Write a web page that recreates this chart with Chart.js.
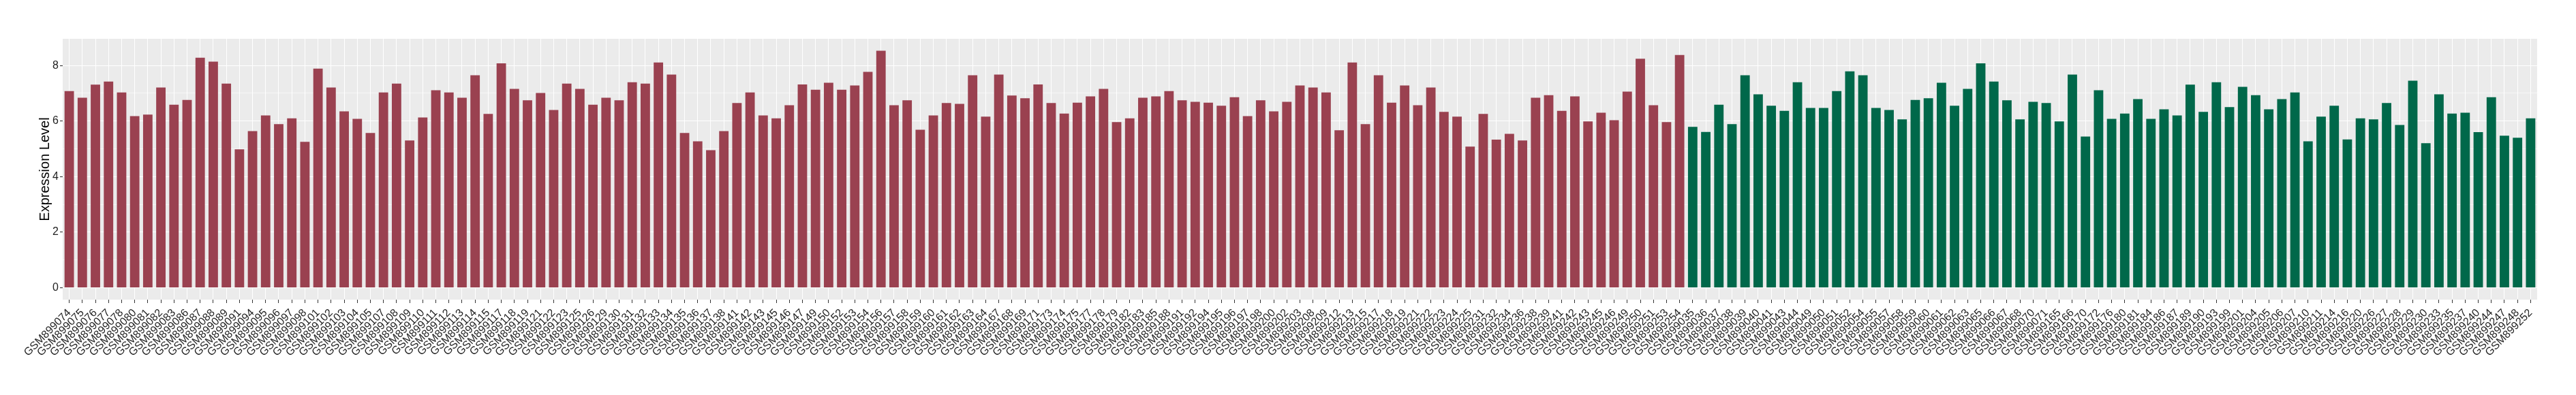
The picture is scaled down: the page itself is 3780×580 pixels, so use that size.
<!DOCTYPE html>
<html>
<head>
<meta charset="utf-8">
<title>Expression Level</title>
<script src="https://cdn.jsdelivr.net/npm/chart.js@4"></script>
<style>
  html, body { margin: 0; padding: 0; background: #fff; }
  #chart { display: block; }
</style>
</head>
<body>
<canvas id="chart" width="3780" height="580"></canvas>
<script>
// first group of samples (red bars)
const groupASamples = [
  'GSM899074', 'GSM899075', 'GSM899076', 'GSM899077', 'GSM899078', 'GSM899080', 'GSM899081', 'GSM899082',
  'GSM899083', 'GSM899086', 'GSM899087', 'GSM899088', 'GSM899089', 'GSM899091', 'GSM899094', 'GSM899095',
  'GSM899096', 'GSM899097', 'GSM899098', 'GSM899101', 'GSM899102', 'GSM899103', 'GSM899104', 'GSM899105',
  'GSM899107', 'GSM899108', 'GSM899109', 'GSM899110', 'GSM899111', 'GSM899112', 'GSM899113', 'GSM899114',
  'GSM899115', 'GSM899117', 'GSM899118', 'GSM899119', 'GSM899121', 'GSM899122', 'GSM899123', 'GSM899125',
  'GSM899126', 'GSM899129', 'GSM899130', 'GSM899131', 'GSM899132', 'GSM899133', 'GSM899134', 'GSM899135',
  'GSM899136', 'GSM899137', 'GSM899138', 'GSM899141', 'GSM899142', 'GSM899143', 'GSM899145', 'GSM899146',
  'GSM899147', 'GSM899149', 'GSM899150', 'GSM899152', 'GSM899153', 'GSM899154', 'GSM899156', 'GSM899157',
  'GSM899158', 'GSM899159', 'GSM899160', 'GSM899161', 'GSM899162', 'GSM899163', 'GSM899164', 'GSM899167',
  'GSM899168', 'GSM899169', 'GSM899171', 'GSM899173', 'GSM899174', 'GSM899175', 'GSM899177', 'GSM899178',
  'GSM899179', 'GSM899182', 'GSM899183', 'GSM899185', 'GSM899188', 'GSM899191', 'GSM899192', 'GSM899194',
  'GSM899195', 'GSM899196', 'GSM899197', 'GSM899198', 'GSM899200', 'GSM899202', 'GSM899203', 'GSM899208',
  'GSM899209', 'GSM899212', 'GSM899213', 'GSM899215', 'GSM899217', 'GSM899218', 'GSM899219', 'GSM899221',
  'GSM899222', 'GSM899223', 'GSM899224', 'GSM899225', 'GSM899231', 'GSM899232', 'GSM899234', 'GSM899236',
  'GSM899238', 'GSM899239', 'GSM899241', 'GSM899242', 'GSM899243', 'GSM899245', 'GSM899246', 'GSM899249',
  'GSM899250', 'GSM899251', 'GSM899253', 'GSM899254'
];
const groupAValues = [
  7.08, 6.84, 7.31, 7.42, 7.03, 6.18, 6.23, 7.21,
  6.59, 6.76, 8.28, 8.14, 7.35, 4.98, 5.64, 6.20,
  5.89, 6.10, 5.25, 7.89, 7.21, 6.35, 6.08, 5.57,
  7.03, 7.35, 5.30, 6.13, 7.11, 7.03, 6.84, 7.65,
  6.26, 8.08, 7.16, 6.75, 7.01, 6.40, 7.35, 7.16,
  6.59, 6.84, 6.75, 7.40, 7.35, 8.11, 7.67, 5.57,
  5.27, 4.95, 5.64, 6.65, 7.03, 6.20, 6.10, 6.57,
  7.32, 7.13, 7.38, 7.13, 7.28, 7.77, 8.53, 6.57,
  6.75, 5.69, 6.20, 6.65, 6.62, 7.65, 6.16, 7.67,
  6.92, 6.82, 7.32, 6.65, 6.27, 6.66, 6.89, 7.16,
  5.96, 6.10, 6.84, 6.89, 7.08, 6.75, 6.69, 6.66,
  6.55, 6.86, 6.18, 6.75, 6.35, 6.69, 7.28, 7.21,
  7.03, 5.67, 8.11, 5.89, 7.65, 6.66, 7.28, 6.57,
  7.21, 6.33, 6.16, 5.08, 6.26, 5.33, 5.54, 5.30,
  6.84, 6.93, 6.37, 6.89, 5.99, 6.30, 6.03, 7.06,
  8.24, 6.57, 5.96, 8.38
];

// second group of samples (green bars)
const groupBSamples = [
  'GSM899035', 'GSM899036', 'GSM899037', 'GSM899038', 'GSM899039', 'GSM899040', 'GSM899041', 'GSM899043',
  'GSM899044', 'GSM899049', 'GSM899050', 'GSM899051', 'GSM899052', 'GSM899054', 'GSM899055', 'GSM899057',
  'GSM899058', 'GSM899059', 'GSM899060', 'GSM899061', 'GSM899062', 'GSM899063', 'GSM899065', 'GSM899066',
  'GSM899067', 'GSM899068', 'GSM899070', 'GSM899071', 'GSM899165', 'GSM899166', 'GSM899170', 'GSM899172',
  'GSM899176', 'GSM899180', 'GSM899181', 'GSM899184', 'GSM899186', 'GSM899187', 'GSM899189', 'GSM899190',
  'GSM899193', 'GSM899199', 'GSM899201', 'GSM899204', 'GSM899205', 'GSM899206', 'GSM899207', 'GSM899210',
  'GSM899211', 'GSM899214', 'GSM899216', 'GSM899220', 'GSM899226', 'GSM899227', 'GSM899228', 'GSM899229',
  'GSM899230', 'GSM899233', 'GSM899235', 'GSM899237', 'GSM899240', 'GSM899244', 'GSM899247', 'GSM899248',
  'GSM899252'
];
const groupBValues = [
  5.79, 5.61, 6.59, 5.89, 7.65, 6.96, 6.55, 6.37,
  7.40, 6.47, 6.47, 7.08, 7.79, 7.65, 6.47, 6.40,
  6.06, 6.76, 6.82, 7.38, 6.55, 7.16, 8.08, 7.42,
  6.75, 6.06, 6.69, 6.65, 5.99, 7.67, 5.44, 7.11,
  6.08, 6.27, 6.79, 6.08, 6.42, 6.20, 7.31, 6.33,
  7.40, 6.50, 7.23, 6.93, 6.42, 6.79, 7.03, 5.27,
  6.16, 6.55, 5.34, 6.10, 6.06, 6.65, 5.86, 7.45,
  5.20, 6.96, 6.27, 6.30, 5.60, 6.86, 5.47, 5.40,
  6.10
];

const yTickValues = [0, 1, 2, 3, 4, 5, 6, 7, 8];
const yLabelledTicks = [0, 2, 4, 6, 8];

const groupAColor = '#9A4150';
const groupBColor = '#00684A';

const labels = groupASamples.concat(groupBSamples);
const values = groupAValues.concat(groupBValues);
const barColors = groupASamples.map(() => groupAColor).concat(groupBSamples.map(() => groupBColor));

// grey panel behind the plot like ggplot
const panelBackground = {
    id: 'panelBackground',
    beforeDraw(chart) {
        const { ctx, chartArea } = chart;
        ctx.save();
        ctx.fillStyle = '#EBEBEB';
        ctx.fillRect(chartArea.left, chartArea.top, chartArea.right - chartArea.left, chartArea.bottom - chartArea.top);
        ctx.restore();
    }
};

const isMajor = v => yLabelledTicks.includes(v);
const fontFamily = '"Liberation Sans", Arial, sans-serif';

new Chart(document.getElementById('chart').getContext('2d'), {
    type: 'bar',
    data: {
        labels: labels,
        datasets: [{
            data: values,
            backgroundColor: barColors,
            borderWidth: 0,
            barPercentage: 0.72,
            categoryPercentage: 1.0
        }]
    },
    options: {
        responsive: false,
        animation: false,
        devicePixelRatio: 1,
        layout: { padding: { left: 50, right: 57, top: 57, bottom: 0 } },
        plugins: {
            legend: { display: false },
            tooltip: { enabled: false }
        },
        scales: {
            x: {
                type: 'category',
                offset: true,
                border: { display: false },
                grid: {
                    offset: false,
                    color: '#FFFFFF',
                    lineWidth: 1,
                    tickColor: '#333333',
                    tickLength: 5
                },
                ticks: {
                    autoSkip: false,
                    maxRotation: 45,
                    minRotation: 45,
                    padding: 5,
                    color: '#222222',
                    font: { family: fontFamily, size: 16 }
                },
                afterFit: scale => { scale.height = 140; }
            },
            y: {
                min: -0.43,
                max: 8.96,
                border: { display: false },
                afterBuildTicks: scale => {
                    scale.ticks = yTickValues.map(v => ({ value: v }));
                },
                grid: {
                    color: '#FFFFFF',
                    lineWidth: ctx => isMajor(ctx.tick.value) ? 1.1 : 0.55,
                    tickColor: ctx => isMajor(ctx.tick.value) ? '#333333' : 'rgba(0,0,0,0)',
                    tickLength: 4
                },
                ticks: {
                    padding: 2,
                    color: '#222222',
                    font: { family: fontFamily, size: 16 },
                    callback: v => isMajor(v) ? String(v) : ''
                },
                title: {
                    display: true,
                    text: 'Expression Level',
                    color: '#000000',
                    padding: { top: 4, bottom: 4 },
                    font: { family: fontFamily, size: 20 }
                },
                afterFit: scale => { scale.width = 42; }
            }
        }
    },
    plugins: [panelBackground]
});
</script>
</body>
</html>
